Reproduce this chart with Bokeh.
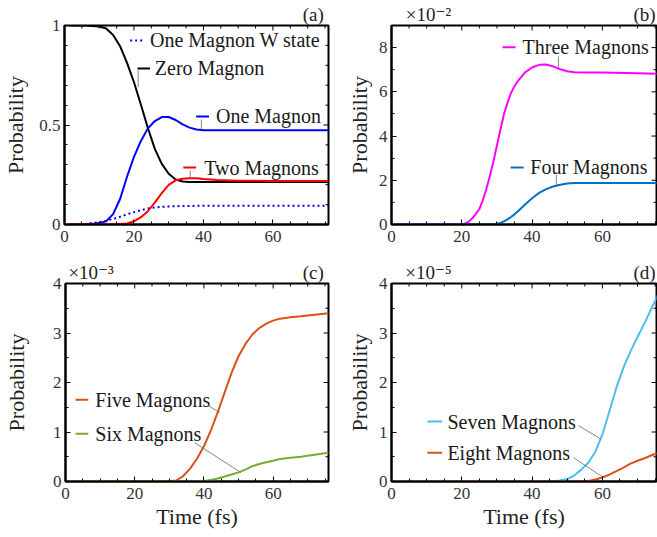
import math
from bokeh.plotting import figure
from bokeh.layouts import column, row
from bokeh.models import FixedTicker, Range1d, LinearAxis
from bokeh.core.properties import value
from bokeh.embed import file_html
from bokeh.resources import INLINE

FONT = "'Liberation Serif', 'DejaVu Serif', serif"

# ---------------- data ----------------
# panel (a)
t_a = [1.5, 4, 6, 8, 10, 12, 14, 16, 18, 20, 22, 24, 26, 28, 30, 32, 34, 36, 38, 40, 44, 50, 60, 76]
zero_magnon = [1.0, 1.0, 1.0, 0.998, 0.995, 0.985, 0.952, 0.896, 0.812, 0.715, 0.602, 0.485, 0.38, 0.305,
               0.255, 0.226, 0.216, 0.214, 0.213, 0.213, 0.213, 0.213, 0.213, 0.213]
one_magnon = [0, 0, 0.001, 0.002, 0.007, 0.016, 0.052, 0.128, 0.24, 0.34, 0.42, 0.483, 0.52, 0.54,
              0.54, 0.525, 0.503, 0.487, 0.477, 0.474, 0.473, 0.473, 0.473, 0.473]
two_magnons = [0, 0, 0, 0, 0, 0, 0.001, 0.002, 0.005, 0.016, 0.037, 0.067, 0.11, 0.158,
               0.199, 0.222, 0.23, 0.233, 0.232, 0.229, 0.224, 0.22, 0.219, 0.218]
w_state = [0, 0.001, 0.003, 0.008, 0.012, 0.019, 0.028, 0.039, 0.051, 0.062, 0.072, 0.081, 0.086, 0.089,
           0.091, 0.092, 0.093, 0.093, 0.094, 0.094, 0.094, 0.094, 0.094, 0.094]

# panel (b)  (units of 1e-2)
t_b = [1.5, 18, 20, 21, 22, 23, 24, 25, 26, 27, 28, 29, 30, 31, 32, 33, 34, 35, 36, 38, 40, 42, 44, 46,
       48, 50, 52, 56, 60, 70, 76]
three_magnons = [0, 0, 0.01, 0.05, 0.13, 0.28, 0.48, 0.7, 1.1, 1.62, 2.2, 2.85, 3.58, 4.3, 5.0, 5.5,
                 5.95, 6.25, 6.5, 6.88, 7.1, 7.22, 7.24, 7.15, 7.02, 6.93, 6.89, 6.88, 6.87, 6.84, 6.82]
four_magnons = [0, 0, 0, 0, 0, 0, 0, 0, 0, 0, 0.005, 0.015, 0.03, 0.07, 0.14, 0.23, 0.34, 0.46, 0.6,
                0.9, 1.19, 1.43, 1.6, 1.72, 1.8, 1.85, 1.88, 1.88, 1.88, 1.88, 1.88]

# panel (c)  (units of 1e-3)
t_c = [1.5, 28, 30, 32, 34, 36, 38, 40, 42, 44, 46, 48, 50, 52, 54, 56, 58, 60, 62, 65, 68, 72, 76]
five_magnons = [0, 0, 0.003, 0.02, 0.11, 0.26, 0.46, 0.71, 1.03, 1.4, 1.8, 2.2, 2.53, 2.78, 2.97, 3.1,
                3.19, 3.25, 3.29, 3.32, 3.34, 3.37, 3.4]
six_magnons = [0, 0, 0, 0, 0, 0, 0.005, 0.012, 0.03, 0.06, 0.1, 0.14, 0.185, 0.24, 0.31, 0.355, 0.39,
               0.42, 0.455, 0.48, 0.5, 0.54, 0.58]

# panel (d)  (units of 1e-5)
t_d = [1.5, 44, 46, 48, 50, 52, 54, 56, 58, 60, 62, 64, 66, 68, 70, 72, 74, 76]
seven_magnons = [0, 0, 0.005, 0.02, 0.05, 0.12, 0.24, 0.38, 0.6, 0.95, 1.42, 1.9, 2.3, 2.63, 2.92,
                 3.2, 3.5, 3.8]
eight_magnons = [0, 0, 0, 0, 0, 0, 0.003, 0.012, 0.04, 0.08, 0.14, 0.21, 0.28, 0.36, 0.42, 0.47,
                 0.53, 0.58]

x_ticks = [0, 20, 40, 60]
x_minor = [v for v in range(0, 80, 5) if v not in x_ticks]

# header texts above each frame: (x position, text)
head_a = [(71.6, "(a)")]
head_b = [(10.5, "×10⁻²"), (72.0, "(b)")]
head_c = [(7.4, "×10⁻³"), (71.6, "(c)")]
head_d = [(10.5, "×10⁻⁵"), (72.0, "(d)")]

# annotation placement (data coords): label text, sample-line x0,x1,y, text x, leader x0,y0,x1,y1
ann_a = [
    ("One Magnon W state", 18.9, 23.0, 0.925, 24.6, None),
    ("Zero Magnon", 21.0, 24.6, 0.784, 26.0, (21.2, 0.775, 21.2, 0.69)),
    ("One Magnon", 37.9, 41.6, 0.543, 43.6, (39.4, 0.528, 39.4, 0.478)),
    ("Two Magnons", 34.2, 37.9, 0.286, 40.2, (36.2, 0.271, 36.2, 0.236)),
]
ann_b = [
    ("Three Magnons", 31.6, 35.3, 8.02, 37.3, (47.5, 7.6, 47.5, 7.12)),
    ("Four Magnons", 33.9, 37.6, 2.58, 39.5, (46.9, 2.25, 46.9, 1.7)),
]
ann_c = [
    ("Five Magnons", 2.9, 6.6, 1.65, 8.6, (41.3, 1.53, 44.6, 1.39)),
    ("Six Magnons", 2.9, 6.6, 0.965, 8.6, (37.4, 0.78, 50.7, 0.18)),
]
ann_d = [
    ("Seven Magnons", 10.2, 14.4, 1.21, 15.9, (53.2, 1.13, 59.5, 0.86)),
    ("Eight Magnons", 10.2, 14.4, 0.58, 15.9, (51.8, 0.48, 60.3, 0.08)),
]


def make_fig(width, height, xmax, ymax, yticks, yminor, ylabels, mb_left, mb_right, mb_top, mb_bottom,
             ylab_standoff, header, xlabel=None):
    p = figure(width=width, height=height, x_range=Range1d(0, xmax), y_range=Range1d(0, ymax),
               output_backend="svg", toolbar_location=None,
               min_border_left=mb_left, min_border_right=mb_right,
               min_border_top=mb_top, min_border_bottom=mb_bottom)
    p.grid.visible = False
    p.outline_line_color = "black"
    p.outline_line_width = 2
    p.background_fill_color = "white"
    p.border_fill_color = "white"
    p.xaxis.ticker = FixedTicker(ticks=x_ticks, minor_ticks=x_minor)
    p.yaxis.ticker = FixedTicker(ticks=yticks, minor_ticks=yminor)
    p.yaxis.major_label_overrides = ylabels
    p.xaxis.major_label_overrides = {v: str(v) for v in x_ticks}
    for ax in (p.xaxis[0], p.yaxis[0]):
        ax.axis_line_width = 2
        ax.major_tick_in = 5
        ax.major_tick_out = 0
        ax.minor_tick_in = 3
        ax.minor_tick_out = 0
        ax.major_label_text_font = FONT
        ax.major_label_text_font_size = "17px"
        ax.major_label_text_color = "#333333"
        ax.axis_label_text_font = FONT
        ax.axis_label_text_font_size = "22px"
        ax.axis_label_text_font_style = "normal"
        ax.axis_label_text_color = "#222222"
    p.yaxis.major_label_standoff = 4
    p.xaxis.major_label_standoff = 6
    p.yaxis.axis_label = "Probability"
    p.yaxis.axis_label_standoff = ylab_standoff
    if xlabel:
        p.xaxis.axis_label = xlabel
        p.xaxis.axis_label_standoff = 2
    # header texts (exponent and panel letter) as labels of an unadorned top axis
    hx = [h[0] for h in header]
    head = LinearAxis(ticker=FixedTicker(ticks=hx, minor_ticks=[]),
                      major_label_overrides={h[0]: h[1] for h in header},
                      axis_line_color=None, major_tick_line_color=None, minor_tick_line_color=None,
                      major_tick_in=0, major_tick_out=0, minor_tick_in=0, minor_tick_out=0,
                      major_label_standoff=1, major_label_text_font=FONT,
                      major_label_text_font_size="19px", major_label_text_color="#222222")
    p.add_layout(head, "above")
    # mirrored ticks on the top and right frame edges (dash markers clipped by the frame)
    n_x, n_xm, n_y, n_ym = len(x_ticks), len(x_minor), len(yticks), len(yminor)
    p.scatter(x=x_ticks, y=[ymax] * n_x, marker="dash", size=10, angle=math.pi / 2, line_color="black")
    p.scatter(x=x_minor, y=[ymax] * n_xm, marker="dash", size=6, angle=math.pi / 2, line_color="black")
    p.scatter(x=[xmax] * n_y, y=yticks, marker="dash", size=10, line_color="black")
    p.scatter(x=[xmax] * n_ym, y=yminor, marker="dash", size=6, line_color="black")
    return p


def annotate(p, anns, colors, dashes):
    for (txt, sx0, sx1, sy, tx, lead), c, d in zip(anns, colors, dashes):
        p.segment(x0=[sx0], y0=[sy], x1=[sx1], y1=[sy], line_color=c, line_width=2, line_dash=d)
        p.text(x=[tx], y=[sy], text=[txt], text_font=value(FONT), text_font_size="20px",
               text_baseline="middle", text_align="left", text_color="#1a1a1a")
        if lead:
            p.segment(x0=[lead[0]], y0=[lead[1]], x1=[lead[2]], y1=[lead[3]], line_color="#666666",
                      line_width=0.8)


# panel a
pa = make_fig(330, 258, 76, 1.0, [0, 0.5, 1], [i / 10 for i in range(11) if i not in (0, 5, 10)],
              {0: "0", 0.5: "0.5", 1: "1"}, 61, 2, 25, 34, 8, head_a)
pa.line(t_a, w_state, line_color="#0000ff", line_width=2, line_dash="2 3")
pa.line(t_a, zero_magnon, line_color="black", line_width=2)
pa.line(t_a, one_magnon, line_color="#0000ff", line_width=2)
pa.line(t_a, two_magnons, line_color="#ff0000", line_width=2)
annotate(pa, ann_a, ["#0000ff", "black", "#0000ff", "#ff0000"], ["2 3", "solid", "solid", "solid"])

# panel b
xmax_b = 75.4
pb = make_fig(327, 258, xmax_b, 9.0, [0, 2, 4, 6, 8], [1, 3, 5, 7, 9],
              {v: str(v) for v in [0, 2, 4, 6, 8]}, 61, 1, 25, 34, 4, head_b)
pb.line(t_b, three_magnons, line_color="#ff00ff", line_width=2)
pb.line(t_b, four_magnons, line_color="#0072bd", line_width=2)
annotate(pb, ann_b, ["#ff00ff", "#0072bd"], ["solid", "solid"])

# panel c
pc = make_fig(330, 279, 76, 4.0, [0, 1, 2, 3, 4], [0.5, 1.5, 2.5, 3.5],
              {v: str(v) for v in [0, 1, 2, 3, 4]}, 61, 2, 24, 56, 21, head_c, xlabel="Time (fs)")
pc.line(t_c, five_magnons, line_color="#d95319", line_width=2)
pc.line(t_c, six_magnons, line_color="#77ac30", line_width=2)
annotate(pc, ann_c, ["#d95319", "#77ac30"], ["solid", "solid"])

# panel d
pd_ = make_fig(327, 279, xmax_b, 4.0, [0, 1, 2, 3, 4], [0.5, 1.5, 2.5, 3.5],
               {v: str(v) for v in [0, 1, 2, 3, 4]}, 61, 1, 24, 56, 4, head_d, xlabel="Time (fs)")
pd_.line(t_d, seven_magnons, line_color="#4dbeee", line_width=2)
pd_.line(t_d, eight_magnons, line_color="#d95319", line_width=2)
annotate(pd_, ann_d, ["#4dbeee", "#d95319"], ["solid", "solid"])

layout = column(row(pa, pb), row(pc, pd_))

with open("out.html", "w") as f:
    f.write(file_html(layout, INLINE))
